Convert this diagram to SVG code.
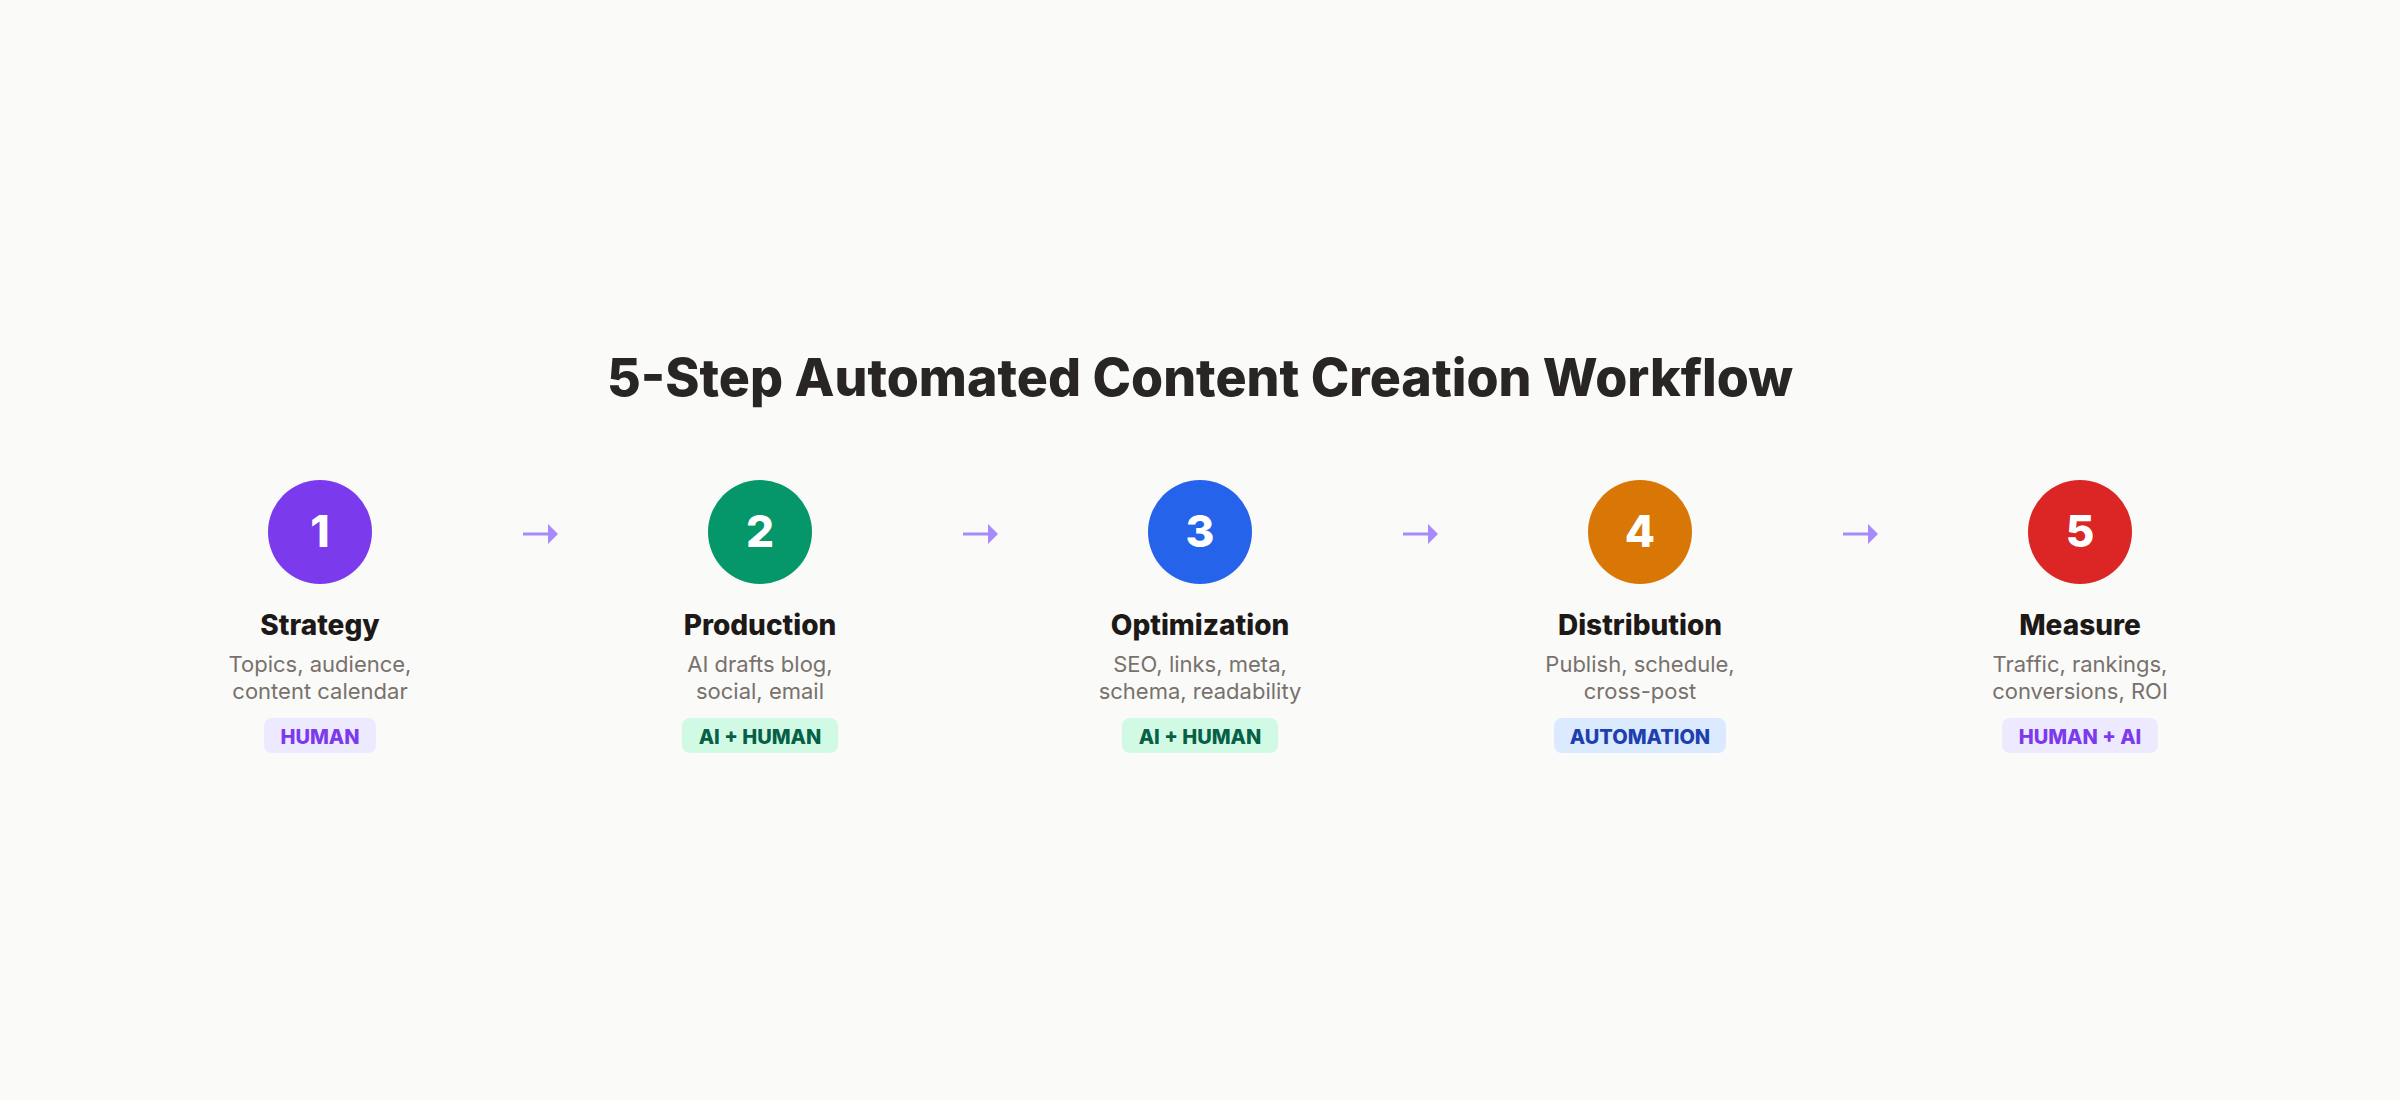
<svg xmlns="http://www.w3.org/2000/svg" width="2400" height="1100" viewBox="0 0 2400 1100">
<style>
.bg{fill:#fafaf9}
.title{font-family:Inter,"Liberation Sans",sans-serif;font-weight:800;font-size:52px;fill:#292524;text-anchor:middle}
.num{font-family:Inter,"Liberation Sans",sans-serif;font-weight:800;font-size:44px;fill:#ffffff;text-anchor:middle}
.name{font-family:Inter,"Liberation Sans",sans-serif;font-weight:800;font-size:28px;fill:#1c1917;text-anchor:middle}
.desc{font-family:Inter,"Liberation Sans",sans-serif;font-weight:400;font-size:22px;fill:#78716c;text-anchor:middle}
.badge{font-family:Inter,"Liberation Sans",sans-serif;font-weight:800;font-size:20px;text-anchor:middle}
.arrow{stroke:#a78bfa;stroke-width:3;fill:none}
</style>
<defs>
<marker id="ah" markerWidth="10" markerHeight="20" refX="0" refY="10" orient="auto" markerUnits="userSpaceOnUse">
<path d="M0,0 L10,10 L0,20 Z" fill="#a78bfa"/>
</marker>
</defs>
<rect class="bg" x="0" y="0" width="2400" height="1100"/>
<text class="title" x="1200" y="396" textLength="1186" lengthAdjust="spacingAndGlyphs">5-Step Automated Content Creation Workflow</text>

<g id="connectors">
<line class="arrow" x1="523" y1="534" x2="548" y2="534" marker-end="url(#ah)"/>
<line class="arrow" x1="963" y1="534" x2="988" y2="534" marker-end="url(#ah)"/>
<line class="arrow" x1="1403" y1="534" x2="1428" y2="534" marker-end="url(#ah)"/>
<line class="arrow" x1="1843" y1="534" x2="1868" y2="534" marker-end="url(#ah)"/>
</g>

<g id="step1">
<circle cx="320" cy="532" r="52" fill="#7c3aed"/>
<text class="num" x="320" y="547">1</text>
<text class="name" x="320" y="635">Strategy</text>
<text class="desc" x="320" y="672">Topics, audience,</text>
<text class="desc" x="320" y="699">content calendar</text>
<rect x="264" y="718" width="112" height="35" rx="8" fill="#ede9fe"/>
<text class="badge" x="320" y="744" fill="#7c3aed">HUMAN</text>
</g>

<g id="step2">
<circle cx="760" cy="532" r="52" fill="#059669"/>
<text class="num" x="760" y="547">2</text>
<text class="name" x="760" y="635">Production</text>
<text class="desc" x="760" y="672">AI drafts blog,</text>
<text class="desc" x="760" y="699">social, email</text>
<rect x="682" y="718" width="156" height="35" rx="8" fill="#d1fae5"/>
<text class="badge" x="760" y="744" fill="#065f46">AI + HUMAN</text>
</g>

<g id="step3">
<circle cx="1200" cy="532" r="52" fill="#2563eb"/>
<text class="num" x="1200" y="547">3</text>
<text class="name" x="1200" y="635">Optimization</text>
<text class="desc" x="1200" y="672">SEO, links, meta,</text>
<text class="desc" x="1200" y="699">schema, readability</text>
<rect x="1122" y="718" width="156" height="35" rx="8" fill="#d1fae5"/>
<text class="badge" x="1200" y="744" fill="#065f46">AI + HUMAN</text>
</g>

<g id="step4">
<circle cx="1640" cy="532" r="52" fill="#d97706"/>
<text class="num" x="1640" y="547">4</text>
<text class="name" x="1640" y="635">Distribution</text>
<text class="desc" x="1640" y="672">Publish, schedule,</text>
<text class="desc" x="1640" y="699">cross-post</text>
<rect x="1554" y="718" width="172" height="35" rx="8" fill="#dbeafe"/>
<text class="badge" x="1640" y="744" fill="#1e40af">AUTOMATION</text>
</g>

<g id="step5">
<circle cx="2080" cy="532" r="52" fill="#dc2626"/>
<text class="num" x="2080" y="547">5</text>
<text class="name" x="2080" y="635">Measure</text>
<text class="desc" x="2080" y="672">Traffic, rankings,</text>
<text class="desc" x="2080" y="699">conversions, ROI</text>
<rect x="2002" y="718" width="156" height="35" rx="8" fill="#ede9fe"/>
<text class="badge" x="2080" y="744" fill="#7c3aed">HUMAN + AI</text>
</g>
</svg>
